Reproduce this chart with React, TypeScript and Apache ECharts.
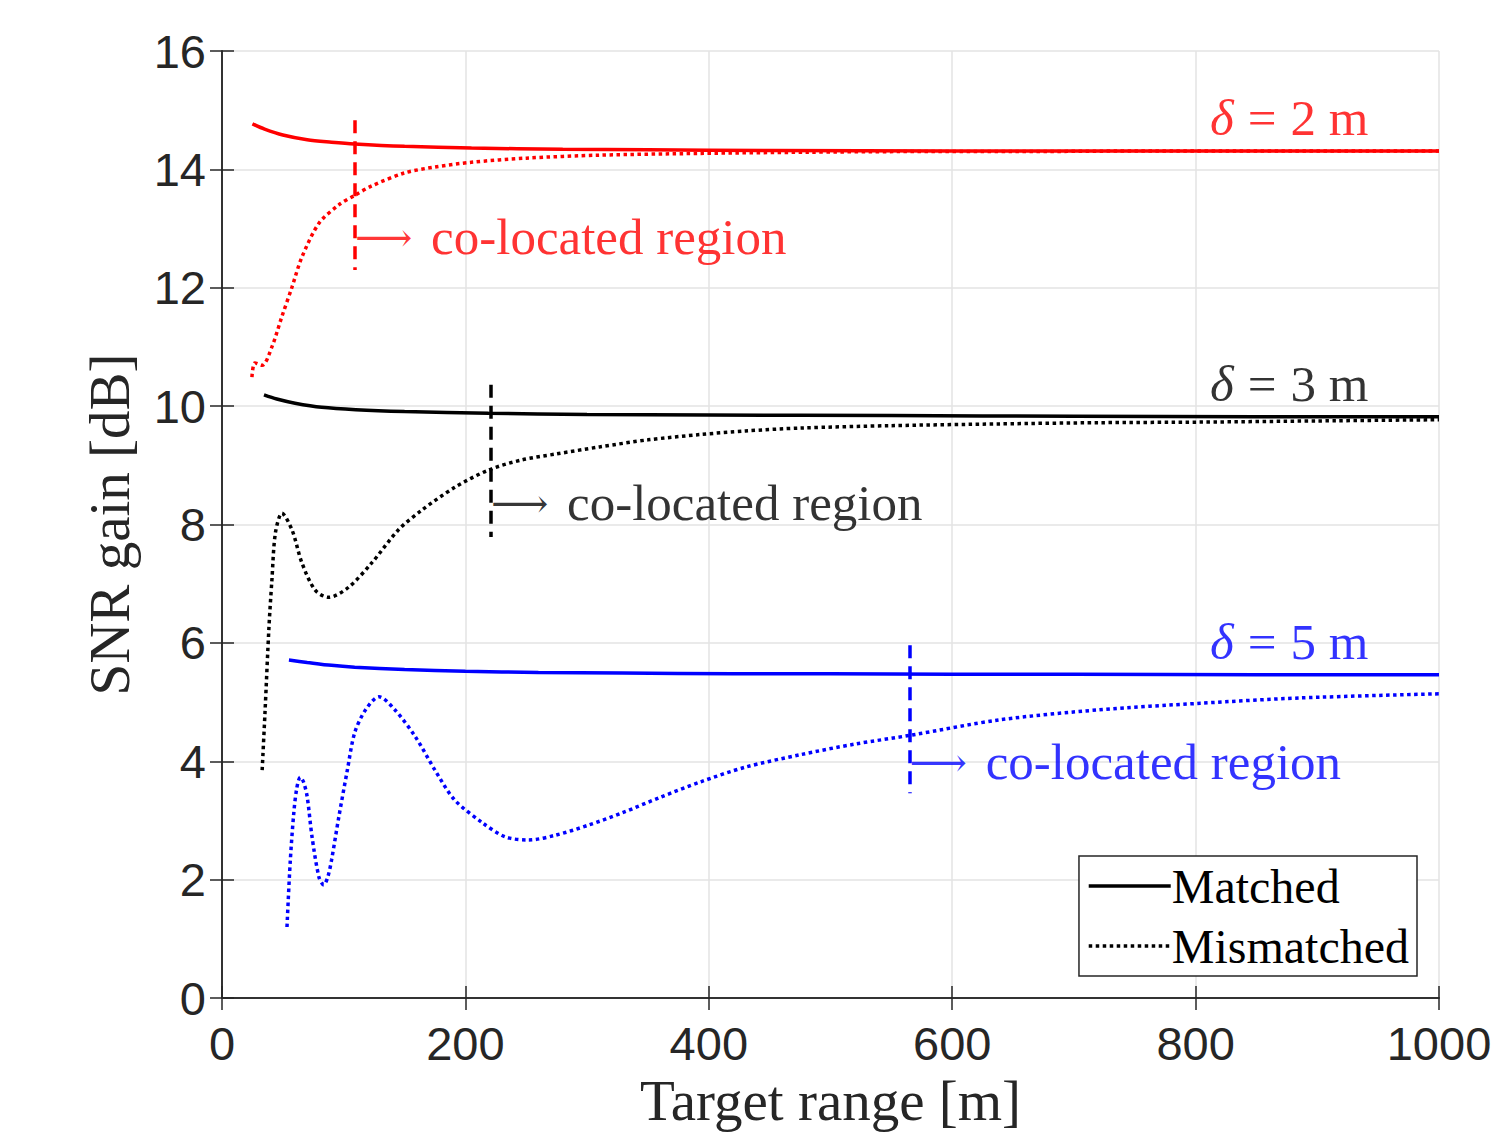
import React, { useEffect, useRef } from "react";
import * as echarts from "echarts";

const redMatchedX = [25, 35, 50, 70, 90, 109, 150, 205, 280, 350, 450, 600, 800, 1000];
const redMatchedY = [14.77, 14.68, 14.58, 14.5, 14.46, 14.43, 14.39, 14.36, 14.34, 14.33, 14.32, 14.31, 14.31, 14.31];
const redMismatchedX = [24.6, 27, 33, 41, 49, 57.5, 65.7, 79.7, 96, 109, 123, 150, 175, 205, 250, 310, 393, 480, 557, 650, 750, 870, 1000];
const redMismatchedY = [10.49, 10.73, 10.69, 11.0, 11.5, 12.01, 12.52, 13.09, 13.4, 13.56, 13.72, 13.94, 14.04, 14.12, 14.19, 14.24, 14.27, 14.29, 14.3, 14.3, 14.31, 14.31, 14.31];

const blackMatchedX = [34.5, 45, 60, 82, 110, 150, 219, 300, 400, 550, 700, 850, 1000];
const blackMatchedY = [10.19, 10.12, 10.05, 9.98, 9.94, 9.91, 9.88, 9.86, 9.85, 9.84, 9.83, 9.82, 9.82];
const blackMismatchedX = [33, 35.3, 38.6, 41, 43.9, 49.3, 57.5, 65.7, 76.6, 87.7, 104, 123, 145, 164, 191.5, 219, 246, 274, 310, 350, 393, 430, 475, 550, 639, 720, 804, 900, 1000];
const blackMismatchedY = [3.85, 4.81, 6.27, 7.06, 7.86, 8.19, 7.91, 7.35, 6.89, 6.77, 6.94, 7.35, 7.91, 8.24, 8.63, 8.92, 9.09, 9.19, 9.31, 9.43, 9.52, 9.58, 9.63, 9.67, 9.7, 9.72, 9.73, 9.75, 9.77];

const blueMatchedX = [55, 70, 90, 109, 150, 200, 260, 329, 420, 500, 600, 700, 850, 1000];
const blueMatchedY = [5.71, 5.67, 5.62, 5.59, 5.55, 5.52, 5.5, 5.49, 5.48, 5.48, 5.47, 5.47, 5.46, 5.46];
const blueMismatchedX = [53.4, 56, 59, 61.5, 64.3, 67, 70, 74, 79.7, 83.6, 87, 90, 96, 103, 109, 118, 129, 142, 159, 175, 191, 214, 233, 252, 274, 301, 329, 360, 393, 430, 475, 520, 566, 639, 721, 804, 886, 1000];
const blueMismatchedY = [1.2, 2.28, 3.13, 3.55, 3.73, 3.65, 3.4, 2.72, 2.04, 1.91, 2.05, 2.33, 3.06, 3.85, 4.48, 4.87, 5.09, 4.87, 4.41, 3.85, 3.35, 2.96, 2.72, 2.67, 2.75, 2.92, 3.13, 3.39, 3.65, 3.9, 4.11, 4.29, 4.44, 4.7, 4.87, 4.98, 5.07, 5.14];

// co-located region boundaries
const boundaryX = [109.3, 221, 565];
const boundaryYTop = [14.83, 10.36, 5.96];
const boundaryYBottom = [12.3, 7.79, 3.46];
const regionLabelY = [12.86, 8.36, 3.99];
const deltaLabels = ["2", "3", "5"];
const deltaLabelX = 942;
const deltaLabelY = [14.87, 10.37, 6.01];
const xTickLabels = ["0", "200", "400", "600", "800", "1000"];
const colors = ["#ff0000", "#000000", "#0000ff"];

const zip = (xs: number[], ys: number[]) => xs.map((x, i) => [x, ys[i]]);

const SERIF = "'Liberation Serif', 'Times New Roman', serif";
const SANS = "'Liberation Sans', Arial, sans-serif";

export default function App() {
  const ref = useRef<HTMLDivElement>(null);
  useEffect(() => {
    if (!ref.current) return;
    const chart = echarts.init(ref.current, undefined, { renderer: "svg" });
    const matched = [zip(redMatchedX, redMatchedY), zip(blackMatchedX, blackMatchedY), zip(blueMatchedX, blueMatchedY)];
    const mismatched = [zip(redMismatchedX, redMismatchedY), zip(blackMismatchedX, blackMismatchedY), zip(blueMismatchedX, blueMismatchedY)];
    const series: any[] = [];
    for (let i = 0; i < 3; i++) {
      series.push({
        type: "line",
        data: matched[i],
        showSymbol: false,
        symbol: "none",
        smooth: 0.3,
        lineStyle: { color: colors[i], width: 3.5 },
        z: 3,
      });
      series.push({
        type: "line",
        data: mismatched[i],
        showSymbol: false,
        symbol: "none",
        smooth: 0.3,
        lineStyle: { color: colors[i], width: 3.5, type: "dotted" },
        z: 3,
        markLine: {
          silent: true,
          symbol: ["none", "none"],
          label: { show: false },
          lineStyle: { color: colors[i], width: 3.5, type: [13, 8] },
          data: [[{ coord: [boundaryX[i], boundaryYTop[i]] }, { coord: [boundaryX[i], boundaryYBottom[i]] }]],
        },
      });
      series.push({
        type: "scatter",
        data: [[boundaryX[i], regionLabelY[i]]],
        symbolSize: 0,
        silent: true,
        label: {
          show: true,
          position: "right",
          distance: 0,
          formatter: "{a|⟶} co-located region",
          color: colors[i],
          fontFamily: SERIF,
          fontSize: 51,
          rich: {
            a: { fontFamily: "'DejaVu Serif', serif", fontSize: 40, color: colors[i], padding: [0, 6, 0, 0] },
          },
        },
      });
      series.push({
        type: "scatter",
        data: [[deltaLabelX, deltaLabelY[i]]],
        symbolSize: 0,
        silent: true,
        label: {
          show: true,
          position: "left",
          distance: 0,
          formatter: "{i|δ}{e|=}" + deltaLabels[i] + " m",
          color: colors[i],
          fontFamily: SERIF,
          fontSize: 51,
          rich: {
            i: { fontStyle: "italic", fontFamily: SERIF, fontSize: 51, color: colors[i] },
            e: { fontFamily: SERIF, fontSize: 51, color: colors[i], padding: [0, 14, 0, 14] },
          },
        },
      });
    }
    series.push({ name: "Matched", type: "line", data: [], symbol: "none", lineStyle: { color: "#000", width: 3.5 }, itemStyle: { color: "#000" } });
    series.push({ name: "Mismatched", type: "line", data: [], symbol: "none", lineStyle: { color: "#000", width: 3.5, type: "dotted" }, itemStyle: { color: "#000" } });

    const axisLine = { show: true, lineStyle: { color: "#262626", width: 1.5 } };
    const tick = { show: true, inside: true, length: 12, lineStyle: { color: "#262626", width: 1.5 } };
    chart.setOption({
      animation: false,
      grid: { left: 222, right: 55, top: 51, bottom: 141, outerBoundsMode: "none", containLabel: false },
      legend: {
        data: ["Matched", "Mismatched"],
        orient: "vertical",
        right: 77,
        bottom: 163,
        itemWidth: 82,
        itemHeight: 20,
        itemGap: 12,
        padding: [6, 8, 6, 8],
        borderColor: "#262626",
        borderWidth: 1.5,
        borderRadius: 0,
        backgroundColor: "#fff",
        itemStyle: { opacity: 0 },
        lineStyle: { width: 3.5 },
        textStyle: { fontFamily: SERIF, fontSize: 48, color: "#000", padding: [0, 0, 0, -4] },
      },
      xAxis: [
        {
          type: "value",
          min: 0,
          max: 1000,
          interval: 200,
          name: "Target range [m]",
          nameLocation: "middle",
          nameGap: 74,
          nameTextStyle: { fontFamily: SERIF, fontSize: 57, color: "#262626" },
          axisLine,
          axisTick: tick,
          axisLabel: {
            fontFamily: SANS,
            fontSize: 47,
            color: "#262626",
            margin: 22,
            formatter: (v: number) => xTickLabels[Math.round(v / 200)] ?? String(v),
          },
          splitLine: { show: true, lineStyle: { color: "#e3e3e3", width: 1.5 } },
        },
        {
          type: "value",
          min: 0,
          max: 1000,
          interval: 200,
          position: "top",
          axisLine,
          axisTick: tick,
          axisLabel: { show: false },
          splitLine: { show: false },
        },
      ],
      yAxis: [
        {
          type: "value",
          min: 0,
          max: 16,
          interval: 2,
          name: "SNR gain [dB]",
          nameLocation: "middle",
          nameGap: 84,
          nameTextStyle: { fontFamily: SERIF, fontSize: 57, color: "#262626" },
          axisLine,
          axisTick: tick,
          axisLabel: { fontFamily: SANS, fontSize: 47, color: "#262626", margin: 16 },
          splitLine: { show: true, lineStyle: { color: "#e3e3e3", width: 1.5 } },
        },
        {
          type: "value",
          min: 0,
          max: 16,
          interval: 2,
          position: "right",
          axisLine,
          axisTick: tick,
          axisLabel: { show: false },
          splitLine: { show: false },
        },
      ],
      series,
    });
    return () => chart.dispose();
  }, []);
  return <div ref={ref} style={{ width: 1494, height: 1139, position: "absolute", left: 0, top: 0 }} />;
}
